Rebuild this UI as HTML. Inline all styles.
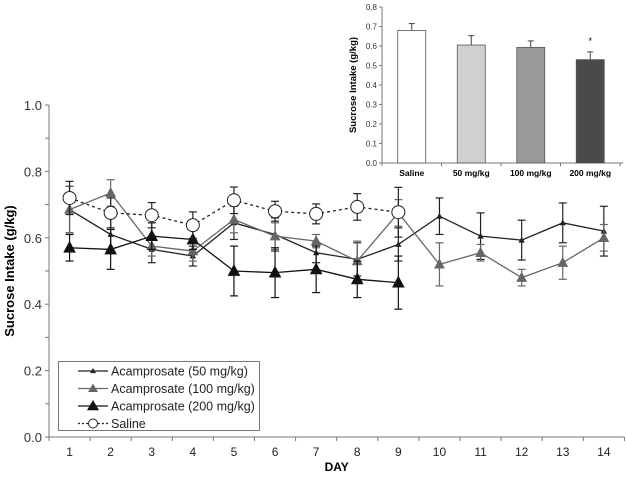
<!DOCTYPE html>
<html><head><meta charset="utf-8"><style>
body{margin:0;background:#fff}
svg text{font-family:"Liberation Sans",Arial,sans-serif}
</style></head><body>
<svg id="chart" width="627" height="475" xmlns="http://www.w3.org/2000/svg"></svg>
<script>
const days=[1,2,3,4,5,6,7,8,9,10,11,12,13,14];
const yTicks=[0.0,0.2,0.4,0.6,0.8,1.0];
const s50=[0.685,0.61,0.565,0.545,0.645,0.61,0.555,0.535,0.58,0.665,0.605,0.593,0.645,0.62];
const e50=[0.07,0.05,0.04,0.03,0.05,0.05,0.03,0.05,0.05,0.055,0.07,0.06,0.06,0.075];
const s100=[0.685,0.735,0.575,0.56,0.655,0.605,0.59,0.53,0.675,0.52,0.555,0.48,0.525,0.6];
const e100=[0.07,0.04,0.03,0.03,0.04,0.04,0.02,0.06,0.04,0.065,0.025,0.025,0.05,0.04];
const s200=[0.57,0.565,0.605,0.595,0.5,0.495,0.505,0.475,0.465];
const e200=[0.04,0.06,0.04,0.03,0.075,0.075,0.07,0.055,0.08];
const sal=[0.72,0.675,0.668,0.638,0.713,0.68,0.672,0.693,0.677];
const eSal=[0.05,0.045,0.038,0.04,0.04,0.03,0.03,0.04,0.075];
const insetCats=["Saline","50 mg/kg","100 mg/kg","200 mg/kg"];
const insetVals=[0.68,0.605,0.593,0.53];
const insetErr=[0.035,0.048,0.033,0.04];
const insetTicks=[0,0.1,0.2,0.3,0.4,0.5,0.6,0.7,0.8];
const insetFill=["#ffffff","#d0d0d0","#999999","#4a4a4a"];

const svg=document.getElementById('chart');
const NS="http://www.w3.org/2000/svg";
function mk(tag,attrs,parent){const e=document.createElementNS(NS,tag);for(const k in attrs)e.setAttribute(k,attrs[k]);(parent||svg).appendChild(e);return e;}
const X0=49,STEP=41.1,Y0=437,YS=332;
const xs=d=>X0+(d-0.5)*STEP;
const ys=v=>Y0-v*YS;

// axes
let a=mk('line',{x1:X0,y1:ys(1),x2:X0,y2:Y0,stroke:'#777'});

a=mk('line',{x1:X0,y1:Y0,x2:X0+14*STEP,y2:Y0,stroke:'#777'});

for(let i=0;i<=10;i++){mk('line',{x1:X0-4,x2:X0,y1:ys(i/10),y2:ys(i/10),stroke:'#777'});}
yTicks.forEach(t=>{const tx=mk('text',{x:X0-7,y:ys(t)+5,'text-anchor':'end','font-size':13,fill:'#333'});tx.textContent=t.toFixed(1);
});
for(let i=0;i<=14;i++)mk('line',{x1:X0+i*STEP,x2:X0+i*STEP,y1:Y0,y2:Y0+4,stroke:'#777'});
days.forEach(d=>{const tx=mk('text',{x:xs(d),y:456,'text-anchor':'middle','font-size':12,fill:'#222'});tx.textContent=d;
});
let t=mk('text',{x:xs(7.5),y:471,'text-anchor':'middle','font-size':12,'font-weight':'bold'});t.textContent='DAY';

t=mk('text',{x:0,y:0,transform:`translate(14,${ys(0.5)}) rotate(-90)`,'text-anchor':'middle','font-size':13,'font-weight':'bold'});t.textContent='Sucrose Intake (g/kg)';


function series(vals,errs,color,dash,marker,size,name){
  const g=mk('g',{});
  
  vals.forEach((v,i)=>{const x=xs(days[i]);
    mk('line',{x1:x,x2:x,y1:ys(v-errs[i]),y2:ys(v+errs[i]),stroke:color,'stroke-width':1.2},g);
    [v-errs[i],v+errs[i]].forEach(e=>mk('line',{x1:x-4,x2:x+4,y1:ys(e),y2:ys(e),stroke:color,'stroke-width':1.2},g));});
  mk('polyline',{points:vals.map((v,i)=>xs(days[i])+','+ys(v)).join(' '),fill:'none',stroke:color,'stroke-width':1.3,'stroke-dasharray':dash||'none'},g);
  vals.forEach((v,i)=>{const x=xs(days[i]),y=ys(v);
    let m;
    if(marker==='tri')m=mk('polygon',{points:`${x},${y-size} ${x-size*0.9},${y+size*0.7} ${x+size*0.9},${y+size*0.7}`,fill:color},g);
    else m=mk('circle',{cx:x,cy:y,r:size,fill:'#fff',stroke:'#222','stroke-width':1},g);
    });
}
series(s50,e50,'#222',null,'tri',3.5,'series-50mg');
series(s100,e100,'#666',null,'tri',6,'series-100mg');
series(s200,e200,'#111',null,'tri',7,'series-200mg');
series(sal,eSal,'#222','3,3','circ',6.5,'series-saline');

// legend
const lg=mk('g',{});
mk('rect',{x:58.5,y:361.5,width:201,height:69,fill:'#fff',stroke:'#777'},lg);
const legItems=[['Acamprosate (50 mg/kg)','#222','tri',3],['Acamprosate (100 mg/kg)','#666','tri',5],['Acamprosate (200 mg/kg)','#111','tri',6],['Saline','#222','circ',5]];
legItems.forEach((it,i)=>{const y=371+i*17.5;const ge=mk('g',{},lg);
  
  mk('line',{x1:78,x2:108,y1:y,y2:y,stroke:it[1],'stroke-width':1.3,'stroke-dasharray':it[2]==='circ'?'2,2':'none'},ge);
  if(it[2]==='tri')mk('polygon',{points:`93,${y-it[3]} ${93-it[3]},${y+it[3]*0.7} ${93+it[3]},${y+it[3]*0.7}`,fill:it[1]},ge);
  else mk('circle',{cx:93,cy:y,r:4.5,fill:'#fff',stroke:'#222'},ge);
  const tx=mk('text',{x:111,y:y+4.5,'font-size':12.5,fill:'#222'},ge);tx.textContent=it[0];});

// inset
const IX=382,IY0=163,IS=195,ICW=59.5;
const iy=v=>IY0-v*IS;
const ig=mk('g',{});
mk('line',{x1:IX,x2:IX,y1:iy(0.8),y2:IY0,stroke:'#777'},ig);
mk('line',{x1:IX,x2:IX+4*ICW+3,y1:IY0,y2:IY0,stroke:'#777'},ig);
insetTicks.forEach(v=>{mk('line',{x1:IX-3,x2:IX,y1:iy(v),y2:iy(v),stroke:'#777'},ig);
  const tx=mk('text',{x:IX-5,y:iy(v)+3,'text-anchor':'end','font-size':8,fill:'#333'},ig);tx.textContent=v.toFixed(1);
  });
for(let i=0;i<=4;i++)mk('line',{x1:IX+i*ICW,x2:IX+i*ICW,y1:IY0,y2:IY0+3,stroke:'#777'},ig);
insetVals.forEach((v,i)=>{const cx=IX+(i+0.5)*ICW;
  const b=mk('rect',{x:cx-14,y:iy(v),width:28,height:IY0-iy(v),fill:insetFill[i],stroke:'#555','stroke-width':0.8},ig);
  
  mk('line',{x1:cx,x2:cx,y1:iy(v),y2:iy(v+insetErr[i]),stroke:'#444'},ig);
  mk('line',{x1:cx-3,x2:cx+3,y1:iy(v+insetErr[i]),y2:iy(v+insetErr[i]),stroke:'#444'},ig);
  const tx=mk('text',{x:cx,y:176,'text-anchor':'middle','font-size':8.5,'font-weight':'bold'},ig);tx.textContent=insetCats[i];
  });
t=mk('text',{x:IX+3.5*ICW,y:iy(insetVals[3]+insetErr[3])-8,'text-anchor':'middle','font-size':9},ig);t.textContent='*';

t=mk('text',{x:0,y:0,transform:`translate(356,${iy(0.4)}) rotate(-90)`,'text-anchor':'middle','font-size':9.5,'font-weight':'bold'},ig);t.textContent='Sucrose Intake (g/kg)';

</script>
</body></html>
